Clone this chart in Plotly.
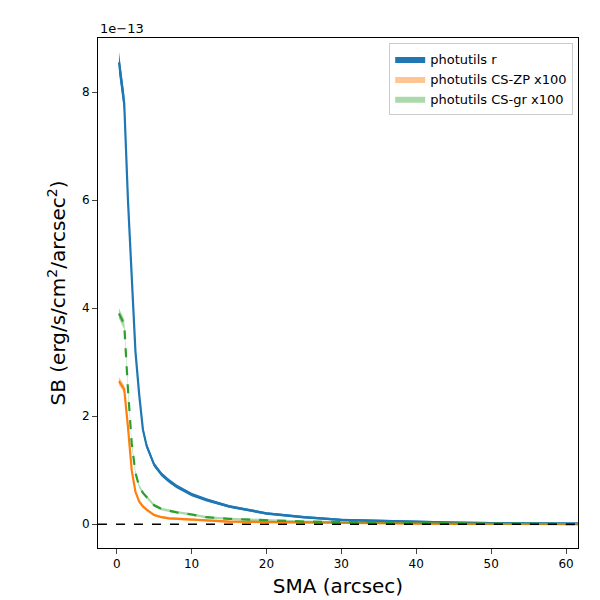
import plotly.graph_objects as go

sma = [0.3, 1, 1.5, 2, 2.5, 3, 3.5, 4, 5, 6, 7, 8, 10, 12, 15, 20, 25, 30, 35, 40, 45, 50, 55, 60, 62]
sb_r = [8.55, 7.8, 6.0, 4.5, 3.2, 2.4, 1.75, 1.45, 1.1, 0.92, 0.8, 0.7, 0.55, 0.45, 0.33, 0.2, 0.13, 0.08, 0.06, 0.04, 0.03, 0.02, 0.015, 0.01, 0.01]
sb_zp = [2.65, 2.5, 1.8, 1.0, 0.6, 0.42, 0.33, 0.27, 0.17, 0.13, 0.11, 0.1, 0.08, 0.07, 0.05, 0.04, 0.03, 0.02, 0.015, 0.01, 0.008, 0.005, 0.003, 0.002, 0.0]
sb_gr = [3.9, 3.7, 2.5, 1.5, 0.95, 0.7, 0.58, 0.5, 0.35, 0.28, 0.25, 0.22, 0.18, 0.13, 0.1, 0.07, 0.05, 0.04, 0.03, 0.02, 0.015, 0.01, 0.01, 0.01, 0.0]
yticks = [0, 2, 4, 6, 8]

fig = go.Figure()
series = [("photutils r", sb_r, "#1f77b4", "solid", 1.0),
          ("photutils CS-ZP x100", sb_zp, "#ff7f0e", "solid", 0.45),
          ("photutils CS-gr x100", sb_gr, "#2ca02c", "dash", 0.4)]
for name, ys, c, dash, op in series:
    up = [y * 1.02 + 0.02 for y in ys]
    lo = [y * 0.98 - 0.02 for y in ys]
    fig.add_trace(go.Scatter(x=sma + sma[::-1], y=up + lo[::-1], fill="toself",
                             fillcolor=c, opacity=op, line=dict(width=0), name=name,
                             hoverinfo="skip"))
    fig.add_trace(go.Scatter(x=sma, y=ys, mode="lines", line=dict(color=c, width=2.2, dash=dash),
                             showlegend=False))
fig.add_trace(go.Scatter(x=[-2.5, 61.6], y=[0, 0], mode="lines",
                         line=dict(color="black", width=1.5, dash="dash"), showlegend=False))

fig.update_layout(
    width=600, height=600, paper_bgcolor="white", plot_bgcolor="white",
    margin=dict(l=90, r=30, t=30, b=60, autoexpand=False),
    font=dict(family="DejaVu Sans", size=12, color="black"),
    legend=dict(x=0.99, y=0.99, xanchor="right", yanchor="top", bordercolor="#ccc",
                borderwidth=1, font=dict(size=13)),
    xaxis=dict(range=[-2.5, 61.6], showgrid=False, zeroline=False, showline=True, mirror=True,
               linecolor="black", ticks="outside", tickvals=[0, 10, 20, 30, 40, 50, 60],
               automargin=False, title=dict(text="SMA (arcsec)", font=dict(size=20), standoff=8)),
    yaxis=dict(range=[-0.44, 9.0], showgrid=False, zeroline=False, showline=True, mirror=True,
               linecolor="black", ticks="outside", tickvals=yticks,
               ticktext=[str(v) for v in yticks], automargin=False,
               title=dict(text="SB (erg/s/cm<sup>2</sup>/arcsec<sup>2</sup>)", font=dict(size=20), standoff=10)),
    annotations=[dict(text="1e−13", xref="paper", yref="paper", x=0, y=1.0, xanchor="left",
                      yanchor="bottom", showarrow=False, font=dict(size=13))],
)
fig.write_html("out.html")
